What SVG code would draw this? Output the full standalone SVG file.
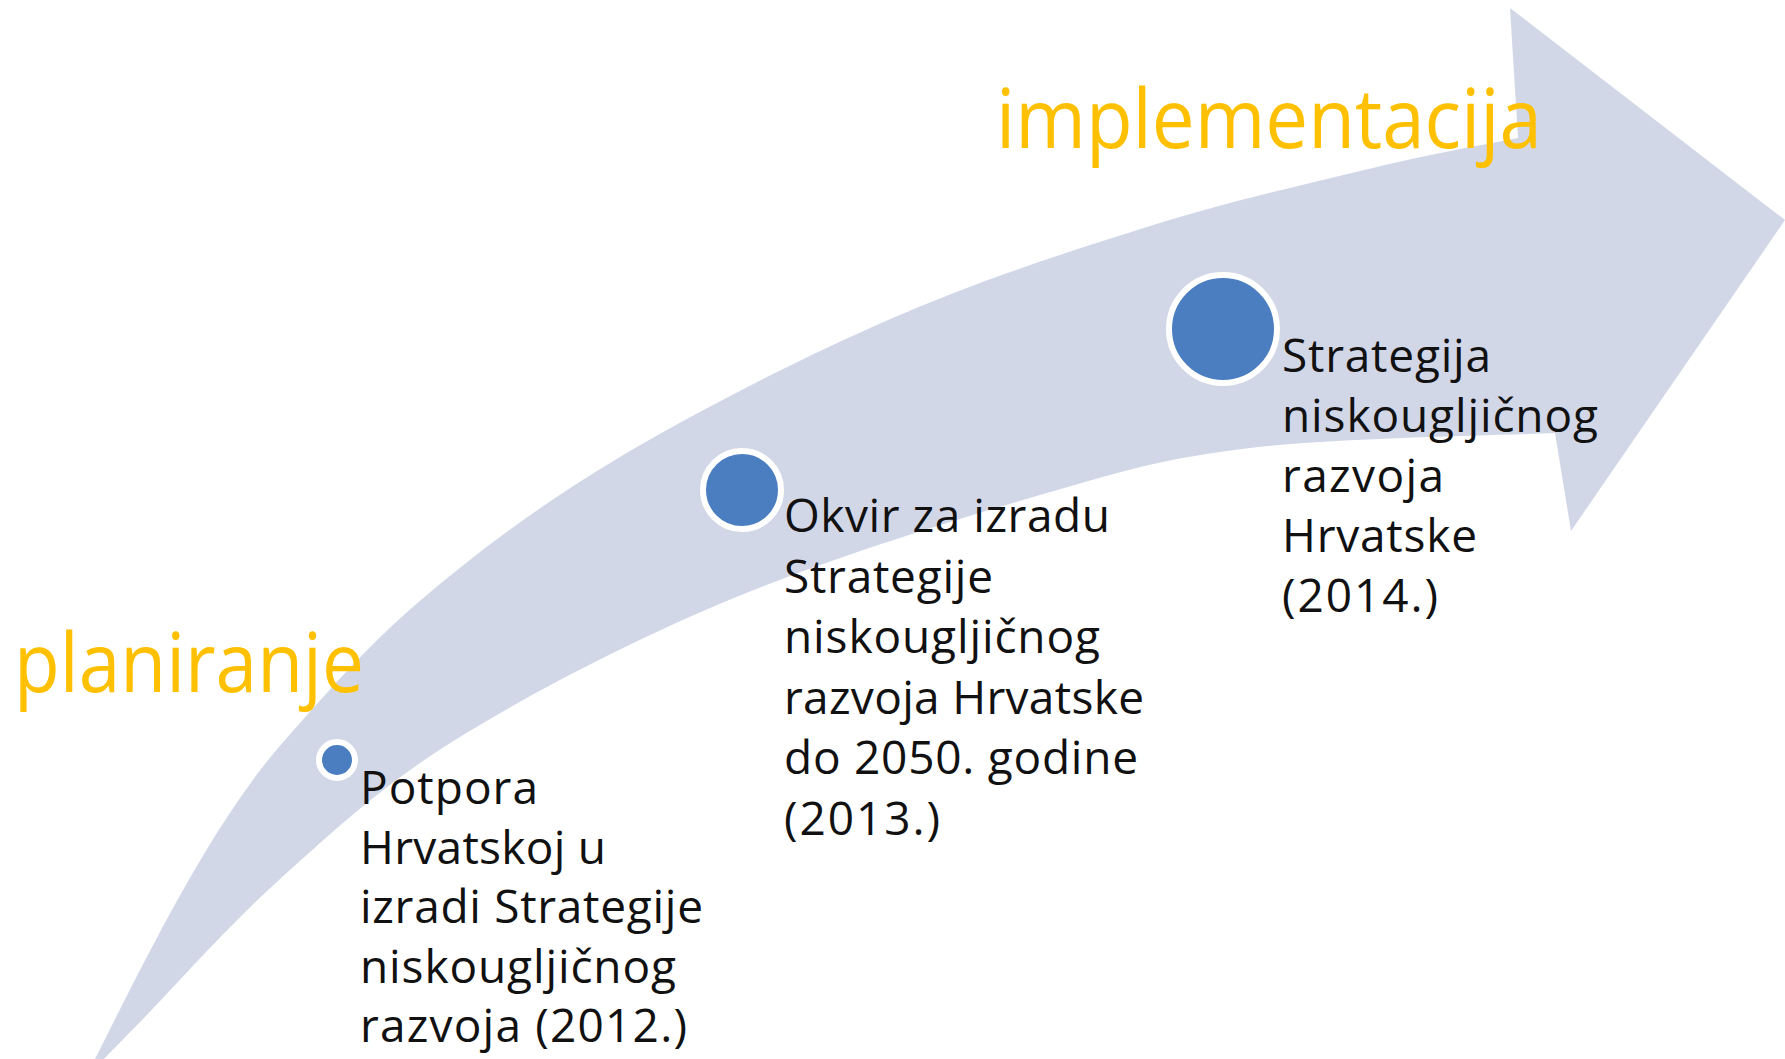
<svg xmlns="http://www.w3.org/2000/svg" width="1785" height="1059" viewBox="0 0 1785 1059">
  <style>
    .arrow { fill: #D2D7E8; }
    .dot { fill: #4A7EC0; stroke: #FFFFFF; stroke-width: 6; }
    .lbl { font-family: "Open Sans", "Liberation Sans", sans-serif; font-size: 46px; fill: #111111; }
    .phase { font-family: "Open Sans", "Liberation Sans", sans-serif; font-size: 82px; fill: #FFC000; }
  </style>
  <rect x="0" y="0" width="1785" height="1059" fill="#FFFFFF"/>
  <g id="connectors">
    <path id="arrow" class="arrow" d="M 95,1059 C 144.5,961 211.7,822 285,740 C 326.7,693.3 366,646.7 421,600 C 476,553.3 537.2,506.7 615,460 C 692.8,413.3 798.8,359 888,320 C 977.2,281 1068.5,251.5 1150,226 C 1231.5,200.5 1316.7,181.7 1377,167 C 1437.3,152.3 1494.5,142.8 1518,138 L 1510,8 L 1785,220 L 1571,531 L 1555,433 C 1504.2,435.5 1335.8,437.7 1250,448 C 1164.2,458.3 1126.8,469.7 1040,495 C 953.2,520.3 826.5,559.2 729,600 C 631.5,640.8 530,693.3 455,740 C 380,786.7 331.2,833.3 279,880 C 226.8,926.7 171.2,990.2 142,1020 C 112.8,1049.8 110.3,1052.5 104,1059 Z"/>
  </g>
  <g id="phase-implementacija">
    <text class="phase" x="996" y="148" textLength="546" lengthAdjust="spacingAndGlyphs">implementacija</text>
  </g>
  <g id="phase-planiranje">
    <text class="phase" x="14" y="692" textLength="350" lengthAdjust="spacingAndGlyphs">planiranje</text>
  </g>
  <g id="node-2012">
    <circle class="dot" cx="337" cy="760" r="18" stroke-width="5"/>
    <text class="lbl" x="360">
      <tspan x="360" y="804" textLength="178">Potpora</tspan>
      <tspan x="360" y="863.5" textLength="246">Hrvatskoj u</tspan>
      <tspan x="360" y="923" textLength="343">izradi Strategije</tspan>
      <tspan x="360" y="982.5" textLength="316">niskougljičnog</tspan>
      <tspan x="360" y="1042" textLength="327">razvoja (2012.)</tspan>
    </text>
  </g>
  <g id="node-2013">
    <circle class="dot" cx="742" cy="490" r="39"/>
    <text class="lbl" x="784">
      <tspan x="784" y="532" textLength="326">Okvir za izradu</tspan>
      <tspan x="784" y="592.5" textLength="209">Strategije</tspan>
      <tspan x="784" y="653" textLength="316">niskougljičnog</tspan>
      <tspan x="784" y="713.5" textLength="360">razvoja Hrvatske</tspan>
      <tspan x="784" y="774" textLength="354">do 2050. godine</tspan>
      <tspan x="784" y="834.5" textLength="156">(2013.)</tspan>
    </text>
  </g>
  <g id="node-2014">
    <circle class="dot" cx="1223" cy="329" r="54"/>
    <text class="lbl" x="1282">
      <tspan x="1282" y="372" textLength="209">Strategija</tspan>
      <tspan x="1282" y="432" textLength="316">niskougljičnog</tspan>
      <tspan x="1282" y="492" textLength="162">razvoja</tspan>
      <tspan x="1282" y="552" textLength="195">Hrvatske</tspan>
      <tspan x="1282" y="612" textLength="156">(2014.)</tspan>
    </text>
  </g>
</svg>
